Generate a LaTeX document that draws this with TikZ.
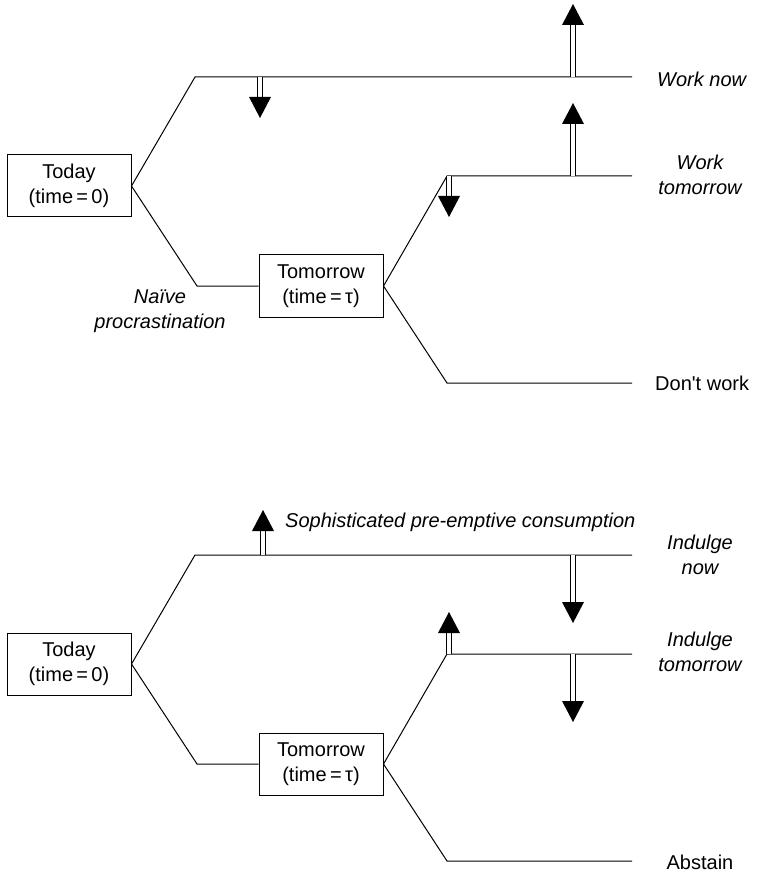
\documentclass[tikz,border=0pt]{standalone}
\usepackage{fontspec}
\setmainfont{Liberation Sans}[Ligatures=TeXOff]
\usetikzlibrary{calc}
\tikzset{
  box/.style={draw, line width=1pt, minimum width=124pt, minimum height=62pt, align=center, inner sep=2pt},
  branch/.style={line width=1pt},
  lbl/.style={font=\fontsize{20}{25}\selectfont\itshape, align=center, inner sep=0pt},
  plainlbl/.style={align=center, inner sep=0pt},
  shaft/.style={double, double distance=3.5pt, line width=1.1pt},
  head/.style={fill=black}
}
\newcommand{\bigarrow}[2]{%
  \draw[shaft] (#1) -- ($(#2)!21pt!(#1)$);
  \fill[head] (#2) -- ($($(#2)!21pt!(#1)$)!11pt!90:(#2)$) -- ($($(#2)!21pt!(#1)$)!11pt!-90:(#2)$) -- cycle;
}
\begin{document}
\begin{tikzpicture}[x=1pt,y=-1pt,font=\fontsize{20}{25}\selectfont]
\useasboundingbox (0,0) rectangle (756,874);

% ---------- top diagram ----------
\node[box] (today1) at (69,186) {Today\\(time\,=\,0)};
\node[box] (tom1) at (321,286) {Tomorrow\\(time\,=\,τ)};
\coordinate (u1) at (195,77);
\coordinate (u1e) at (632,77);
\coordinate (d1) at (197,286);
\coordinate (wt) at (447,176);
\coordinate (wte) at (632,176);
\coordinate (dw) at (447,383);
\coordinate (dwe) at (632,383);
\draw[branch] (today1.east) -- (u1) -- (u1e);
\draw[branch] (today1.east) -- (d1) -- (tom1.west);
\draw[branch] (tom1.east) -- (wt) -- (wte);
\draw[branch] (tom1.east) -- (dw) -- (dwe);

\node[lbl, anchor=base west] (worknow) at (657,87) {Work now};
\node[lbl] (worktom) at (700,175) {Work\\tomorrow};
\node[plainlbl, anchor=base west] (dontwork) at (655,390) {Don't work};
\node[lbl, anchor=north] (naive) at (160,290) {Naïve\\procrastination};

\coordinate (a1s) at (573,77);   \coordinate (a1t) at (573,4);
\coordinate (a2s) at (260,77);   \coordinate (a2t) at (260,118);
\coordinate (a3s) at (573,176);  \coordinate (a3t) at (573,103);
\coordinate (a4s) at (449,176);  \coordinate (a4t) at (449,217);
\bigarrow{a1s}{a1t}
\bigarrow{a2s}{a2t}
\bigarrow{a3s}{a3t}
\bigarrow{a4s}{a4t}

% ---------- bottom diagram ----------
\node[box] (today2) at (69,664) {Today\\(time\,=\,0)};
\node[box] (tom2) at (321,764) {Tomorrow\\(time\,=\,τ)};
\coordinate (u2) at (195,555);
\coordinate (u2e) at (632,555);
\coordinate (d2) at (197,764);
\coordinate (it) at (447,654);
\coordinate (ite) at (632,654);
\coordinate (ab) at (447,861);
\coordinate (abe) at (632,861);
\draw[branch] (today2.east) -- (u2) -- (u2e);
\draw[branch] (today2.east) -- (d2) -- (tom2.west);
\draw[branch] (tom2.east) -- (it) -- (ite);
\draw[branch] (tom2.east) -- (ab) -- (abe);

\node[lbl] (indnow) at (700,555) {Indulge\\now};
\node[lbl] (indtom) at (700,652) {Indulge\\tomorrow};
\node[plainlbl] (abstain) at (700,862) {Abstain};
\node[lbl, anchor=base west] (soph) at (285,527) {Sophisticated pre-emptive consumption};

\coordinate (b1s) at (263,555);  \coordinate (b1t) at (263,510);
\coordinate (b2s) at (573,555);  \coordinate (b2t) at (573,623);
\coordinate (b3s) at (449,654);  \coordinate (b3t) at (449,612);
\coordinate (b4s) at (573,654);  \coordinate (b4t) at (573,722);
\bigarrow{b1s}{b1t}
\bigarrow{b2s}{b2t}
\bigarrow{b3s}{b3t}
\bigarrow{b4s}{b4t}
\end{tikzpicture}
\end{document}
